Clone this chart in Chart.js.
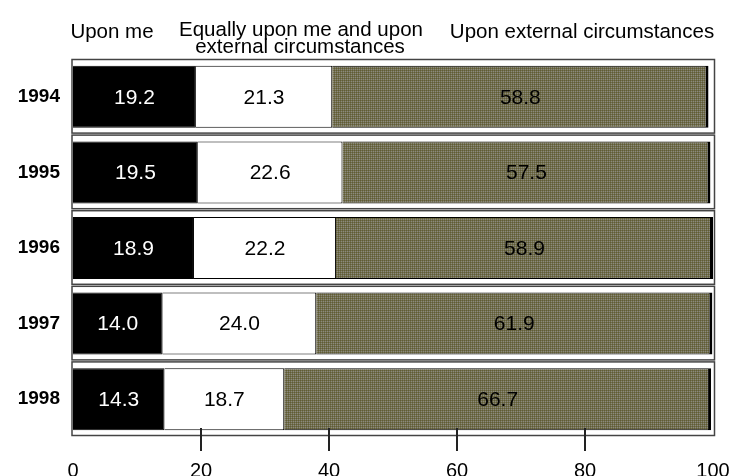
<!DOCTYPE html>
<html>
<head>
<meta charset="utf-8">
<script src="https://cdn.jsdelivr.net/npm/chart.js@4/dist/chart.umd.min.js"></script>
<style>
  html, body { margin: 0; padding: 0; background: #fff; }
  #wrap { width: 731px; height: 476px; }
</style>
</head>
<body>
<div id="wrap"><canvas id="chart"></canvas></div>
<script>
// data
const years = ['1994', '1995', '1996', '1997', '1998'];
const uponMe = [19.2, 19.5, 18.9, 14.0, 14.3];
const equally = [21.3, 22.6, 22.2, 24.0, 18.7];
const external = [58.8, 57.5, 58.9, 61.9, 66.7];
const seriesNames = ['Upon me', ['Equally upon me and upon', 'external circumstances'], 'Upon external circumstances'];
const xTicks = [0, 20, 40, 60, 80, 100];

const FONT = "'Liberation Sans', Arial, sans-serif";

// olive dotted fill like the old dithered pattern
function makePattern() {
    const c = document.createElement('canvas');
    c.width = 2; c.height = 2;
    const p = c.getContext('2d');
    p.fillStyle = '#5f5b36'; p.fillRect(0, 0, 2, 2);
    p.fillStyle = '#726f4c'; p.fillRect(1, 0, 1, 1); p.fillRect(0, 1, 1, 1);
    p.fillStyle = '#8a8981'; p.fillRect(1, 1, 1, 1);
    return p.createPattern(c, 'repeat');
}

// white framed box behind each row
const rowFrames = {
    id: 'rowFrames',
    beforeDatasetsDraw(chart) {
        const ctx = chart.ctx, x = chart.scales.x, y = chart.scales.y;
        const half = (y.getPixelForValue(1) - y.getPixelForValue(0)) / 2;
        const left = x.getPixelForValue(0) - 1, right = x.getPixelForValue(100) + 1.5;
        ctx.save();
        years.forEach((yr, i) => {
            const yc = y.getPixelForValue(i);
            ctx.fillStyle = '#fff';
            ctx.strokeStyle = '#444';
            ctx.lineWidth = 1.5;
            ctx.fillRect(left, yc - half + 0.5, right - left, 2 * half - 2);
            ctx.strokeRect(left, yc - half + 0.5, right - left, 2 * half - 2);
        });
        ctx.restore();
    }
};

// tick marks under the last row and the numbers inside the bars
const extras = {
    id: 'extras',
    afterDatasetsDraw(chart) {
        const ctx = chart.ctx, x = chart.scales.x, area = chart.chartArea;
        ctx.save();
        ctx.strokeStyle = '#222';
        ctx.lineWidth = 2;
        [20, 40, 60, 80].forEach(v => {
            const px = Math.round(x.getPixelForValue(v));
            ctx.beginPath();
            ctx.moveTo(px, area.bottom - 9);
            ctx.lineTo(px, area.bottom + 14);
            ctx.stroke();
        });
        ctx.font = '21px ' + FONT;
        ctx.textAlign = 'center';
        ctx.textBaseline = 'middle';
        chart.data.datasets.forEach((ds, di) => {
            chart.getDatasetMeta(di).data.forEach((bar, i) => {
                ctx.fillStyle = di === 0 ? '#fff' : '#000';
                ctx.fillText(ds.data[i].toFixed(1), (bar.x + bar.base) / 2, bar.y + 1);
            });
        });
        ctx.restore();
    },
    afterDraw(chart) {
        const ctx = chart.ctx;
        ctx.save();
        ctx.fillStyle = '#000';
        ctx.font = '20.5px ' + FONT;
        ctx.textAlign = 'center';
        ctx.textBaseline = 'alphabetic';
        ctx.fillText(seriesNames[0], 112, 38);
        ctx.fillText(seriesNames[1][0], 301, 36);
        ctx.fillText(seriesNames[1][1], 300, 53);
        ctx.fillText(seriesNames[2], 582, 38);
        ctx.restore();
    }
};

new Chart(document.getElementById('chart'), {
    type: 'bar',
    data: {
        labels: years,
        datasets: [
            { label: seriesNames[0], data: uponMe, backgroundColor: '#000', borderColor: '#000', borderWidth: 1 },
            { label: seriesNames[1].join(' '), data: equally, backgroundColor: '#fff', borderColor: '#000', borderWidth: 1 },
            { label: seriesNames[2], data: external, backgroundColor: makePattern(), borderColor: '#000', borderWidth: { top: 1, bottom: 1, left: 1, right: 3 } }
        ]
    },
    options: {
        indexAxis: 'y',
        responsive: true,
        maintainAspectRatio: false,
        animation: false,
        categoryPercentage: 1,
        barPercentage: 0.82,
        layout: { padding: { top: 59, right: 0, left: 0, bottom: 0 } },
        plugins: { legend: { display: false }, tooltip: { enabled: false } },
        scales: {
            x: {
                stacked: true, min: 0, max: 100,
                afterBuildTicks: s => { s.ticks = xTicks.map(v => ({ value: v })); },
                afterFit: s => { s.height = 39; s.paddingRight = 18; s.paddingLeft = 0; },
                grid: { display: false },
                border: { display: false },
                ticks: { color: '#000', font: { family: FONT, size: 20 }, padding: 14, maxRotation: 0 }
            },
            y: {
                stacked: true,
                afterFit: s => { s.width = 73; },
                grid: { display: false },
                border: { display: false },
                ticks: { color: '#000', font: { family: FONT, size: 19, weight: 'bold' }, padding: 5 }
            }
        }
    },
    plugins: [rowFrames, extras]
});
</script>
</body>
</html>
